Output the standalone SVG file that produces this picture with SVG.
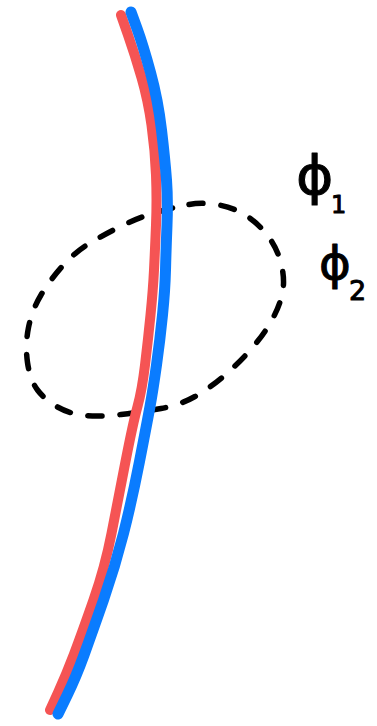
<svg xmlns="http://www.w3.org/2000/svg" width="377" height="726" viewBox="0 0 377 726">
<style>
.stroke{fill:none;stroke-linecap:round;stroke-linejoin:round}
.red{stroke:#f55454;stroke-width:10}
.blue{stroke:#0a7cff;stroke-width:11}
.dash{stroke:#000;stroke-width:5.5;stroke-dasharray:14 18}
.lab{font-family:"DejaVu Sans",sans-serif;fill:#000;stroke:#000;stroke-width:1;stroke-linejoin:round}
</style>
<rect width="377" height="726" fill="#fff"/>
<g id="loop">
<path class="stroke dash" d="M189,204.5 Q203,202 219,205 Q235,208 247.5,216.5 Q260,225 269,237.5 Q278,250 281.5,265 Q285,280 282.5,292.5 Q280,305 272.5,319 Q265,333 252.5,347.5 Q240,362 225,375 Q210,388 195,396.5 Q180,405 161,408.5 Q142,412 121,414.5 Q100,417 85,415.5 Q70,414 57.5,407 Q45,400 37.5,390 Q30,380 27.5,362.5 Q25,345 28.5,327.5 Q32,310 41,295 Q50,280 62.5,266 Q75,252 90,243 Q105,234 122.5,225.5 Q140,217 157.5,212 Q175,207 189,204.5 Z"/>
</g>
<g id="curve-red">
<path class="stroke red" d="M121,15 L128,35 Q135,55 141.5,77.5 Q148,100 151.5,125 Q155,150 156,175 Q157,200 156,225 Q155,250 154,270 Q153,290 150.5,315 Q148,340 145,365 Q142,390 137.5,406.5 Q133,423 125.5,461.5 Q118,500 111.5,533.5 Q105,567 93.5,600 Q82,633 74,654 Q66,675 58,692.5 L50,710"/>
</g>
<g id="curve-blue">
<path class="stroke blue" d="M131,12 L137,28.5 Q143,45 150.5,72.5 Q158,100 161.5,130 Q165,160 166.5,180 Q168,200 167,225 Q166,250 165.5,270 Q165,290 162.5,315 Q160,340 156.5,365 Q153,390 150,406.5 Q147,423 139.5,461.5 Q132,500 123.5,533.5 Q115,567 103.5,600 Q92,633 84,655 Q76,677 67,695.5 L58,714"/>
</g>
<g id="label-phi1">
<text class="lab" font-size="54" transform="translate(296,194) scale(1.05,1)">ϕ</text>
<text class="lab" x="331" y="213" font-size="24">1</text>
</g>
<g id="label-phi2">
<text class="lab" font-size="46" transform="translate(319,279) scale(1.05,1)">ϕ</text>
<text class="lab" x="349" y="300" font-size="27">2</text>
</g>
</svg>
